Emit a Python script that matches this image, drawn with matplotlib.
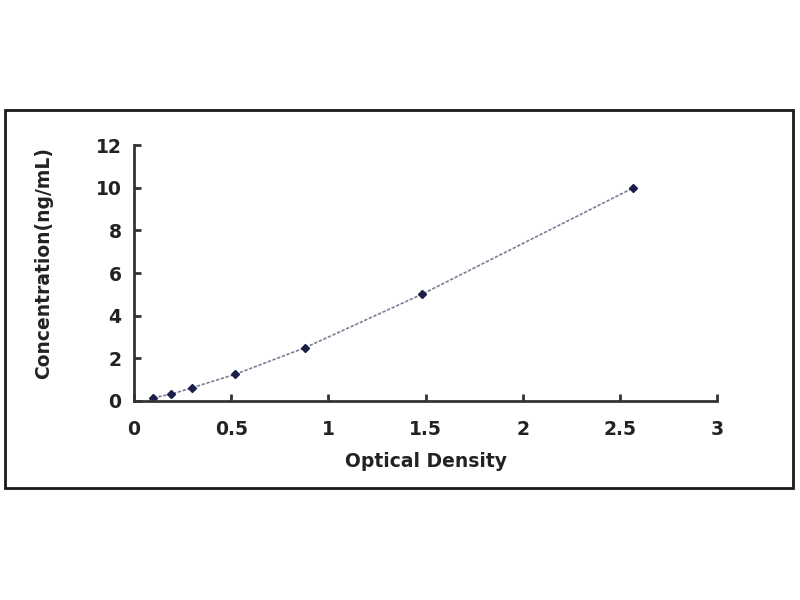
import matplotlib.pyplot as plt
from matplotlib.patches import Rectangle

# standard curve points
od = [0.10, 0.19, 0.30, 0.52, 0.88, 1.48, 2.57]
conc = [0.156, 0.312, 0.625, 1.25, 2.5, 5.0, 10.0]

x_ticks = [0, 0.5, 1, 1.5, 2, 2.5, 3]
x_tick_labels = ["0", "0.5", "1", "1.5", "2", "2.5", "3"]
y_ticks = [0, 2, 4, 6, 8, 10, 12]

plt.rcParams['font.family'] = ['DejaVu Sans']

fig = plt.figure(figsize=(8, 6), dpi=100)
fig.patch.set_facecolor("white")

# outer frame round the chart area
fig.patches.append(Rectangle((0.00625, 0.187), 0.985, 0.63, transform=fig.transFigure,
                             fill=False, edgecolor="#1a1a1a", linewidth=2))

ax = fig.add_axes([0.1675, 0.3317, 0.7288, 0.4263])
ax.plot(od, conc, color="#7a7f95", linewidth=1.2, linestyle=(0, (2, 1)))
ax.plot(od, conc, linestyle="none", marker="D", markersize=4.5, color="#1c1f4a")

ax.set_xlim(0, 3)
ax.set_ylim(0, 12)
ax.set_xticks(x_ticks)
ax.set_xticklabels(x_tick_labels)
ax.set_yticks(y_ticks)

for s in ["top", "right"]:
    ax.spines[s].set_visible(False)
for s in ["left", "bottom"]:
    ax.spines[s].set_color("#333333")
    ax.spines[s].set_linewidth(2)

ax.tick_params(direction="in", length=5, width=2, color="#333333", labelsize=13.5)
ax.tick_params(axis="x", pad=14)
ax.tick_params(axis="y", pad=9)
for lbl in ax.get_xticklabels() + ax.get_yticklabels():
    lbl.set_fontweight("bold")
    lbl.set_color("#222222")

ax.set_xlabel("Optical Density", fontsize=13.5, fontweight="bold", color="#222222")
ax.set_ylabel("Concentration(ng/mL)", fontsize=13.5, fontweight="bold", color="#222222")
ax.xaxis.set_label_coords(0.5, -0.2)
ax.yaxis.set_label_coords(-0.139, 0.54)

fig.savefig("out.png", dpi=100, facecolor="white")
